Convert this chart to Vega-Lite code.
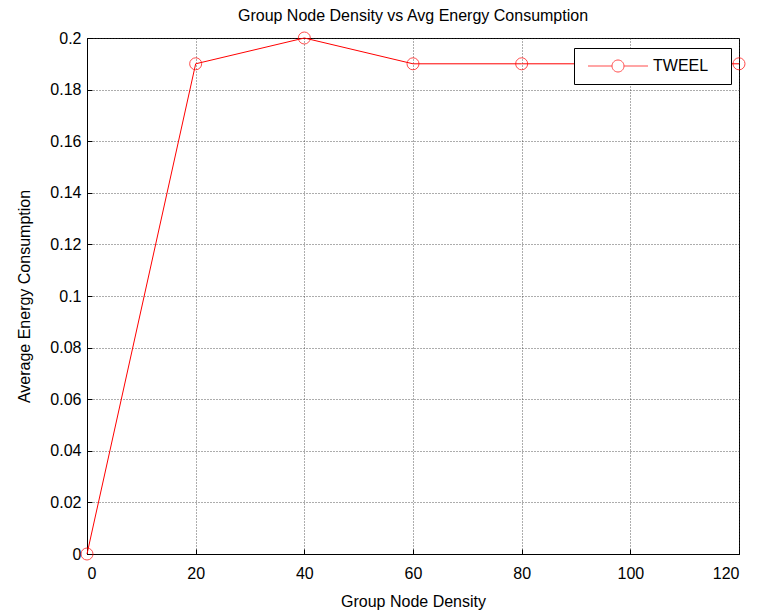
{
  "$schema": "https://vega.github.io/schema/vega-lite/v6.json",
  "width": 652,
  "height": 516,
  "autosize": {"type": "none"},
  "padding": {"left": 87, "top": 38, "right": 19, "bottom": 60},
  "background": "white",
  "title": {"text": "Group Node Density vs Avg Energy Consumption", "font": "Liberation Sans", "fontSize": 16, "fontWeight": "normal", "color": "black", "offset": 6},
  "config": {
    "view": {"stroke": "black", "strokeWidth": 1},
    "axis": {
      "labelFont": "Liberation Sans", "labelFontSize": 16, "labelColor": "black",
      "titleFont": "Liberation Sans", "titleFontSize": 16, "titleFontWeight": "normal", "titleColor": "black",
      "domainColor": "black", "tickColor": "black", "tickSize": -5,
      "gridColor": "#333", "gridDash": [1, 2], "gridOpacity": 0.8, "gridWidth": 1
    }
  },
  "data": {"values": [
    {"x": 0, "y": 0, "s": "TWEEL"},
    {"x": 20, "y": 0.19, "s": "TWEEL"},
    {"x": 40, "y": 0.2, "s": "TWEEL"},
    {"x": 60, "y": 0.19, "s": "TWEEL"},
    {"x": 80, "y": 0.19, "s": "TWEEL"},
    {"x": 100, "y": 0.19, "s": "TWEEL"},
    {"x": 120, "y": 0.19, "s": "TWEEL"}
  ]},
  "encoding": {
    "x": {"field": "x", "type": "quantitative", "scale": {"domain": [0, 120], "nice": false},
      "axis": {"values": [0, 20, 40, 60, 80, 100, 120], "title": "Group Node Density", "labelPadding": 16, "titlePadding": 12}},
    "y": {"field": "y", "type": "quantitative", "scale": {"domain": [0, 0.2], "nice": false},
      "axis": {"values": [0, 0.02, 0.04, 0.06, 0.08, 0.1, 0.12, 0.14, 0.16, 0.18, 0.2], "format": "~g", "title": "Average Energy Consumption", "labelPadding": 11, "titlePadding": 17}}
  },
  "layer": [
    {
      "mark": {"type": "line", "color": "red", "strokeWidth": 1, "clip": false},
      "encoding": {}
    },
    {
      "mark": {"type": "point", "shape": "circle", "filled": false, "size": 144, "strokeWidth": 1, "clip": false},
      "encoding": {
        "color": {"field": "s", "type": "nominal", "scale": {"range": ["red"]},
          "legend": {"title": null, "orient": "none", "legendX": 487, "legendY": 10,
            "symbolType": "M-5,0L-1,0M1,0L5,0M1,0A1,1,0,1,1,-1,0A1,1,0,1,1,1,0",
            "symbolSize": 144, "symbolStrokeWidth": 1, "symbolFillColor": "transparent", "symbolStrokeColor": "red",
            "symbolOffset": 26,
            "labelExpr": "datum.label + '\u2800'",
            "labelFont": "Liberation Sans", "labelFontSize": 16, "labelColor": "black", "labelOffset": 27,
            "strokeColor": "black", "fillColor": "white", "padding": 10, "cornerRadius": 0}}
      }
    }
  ]
}
